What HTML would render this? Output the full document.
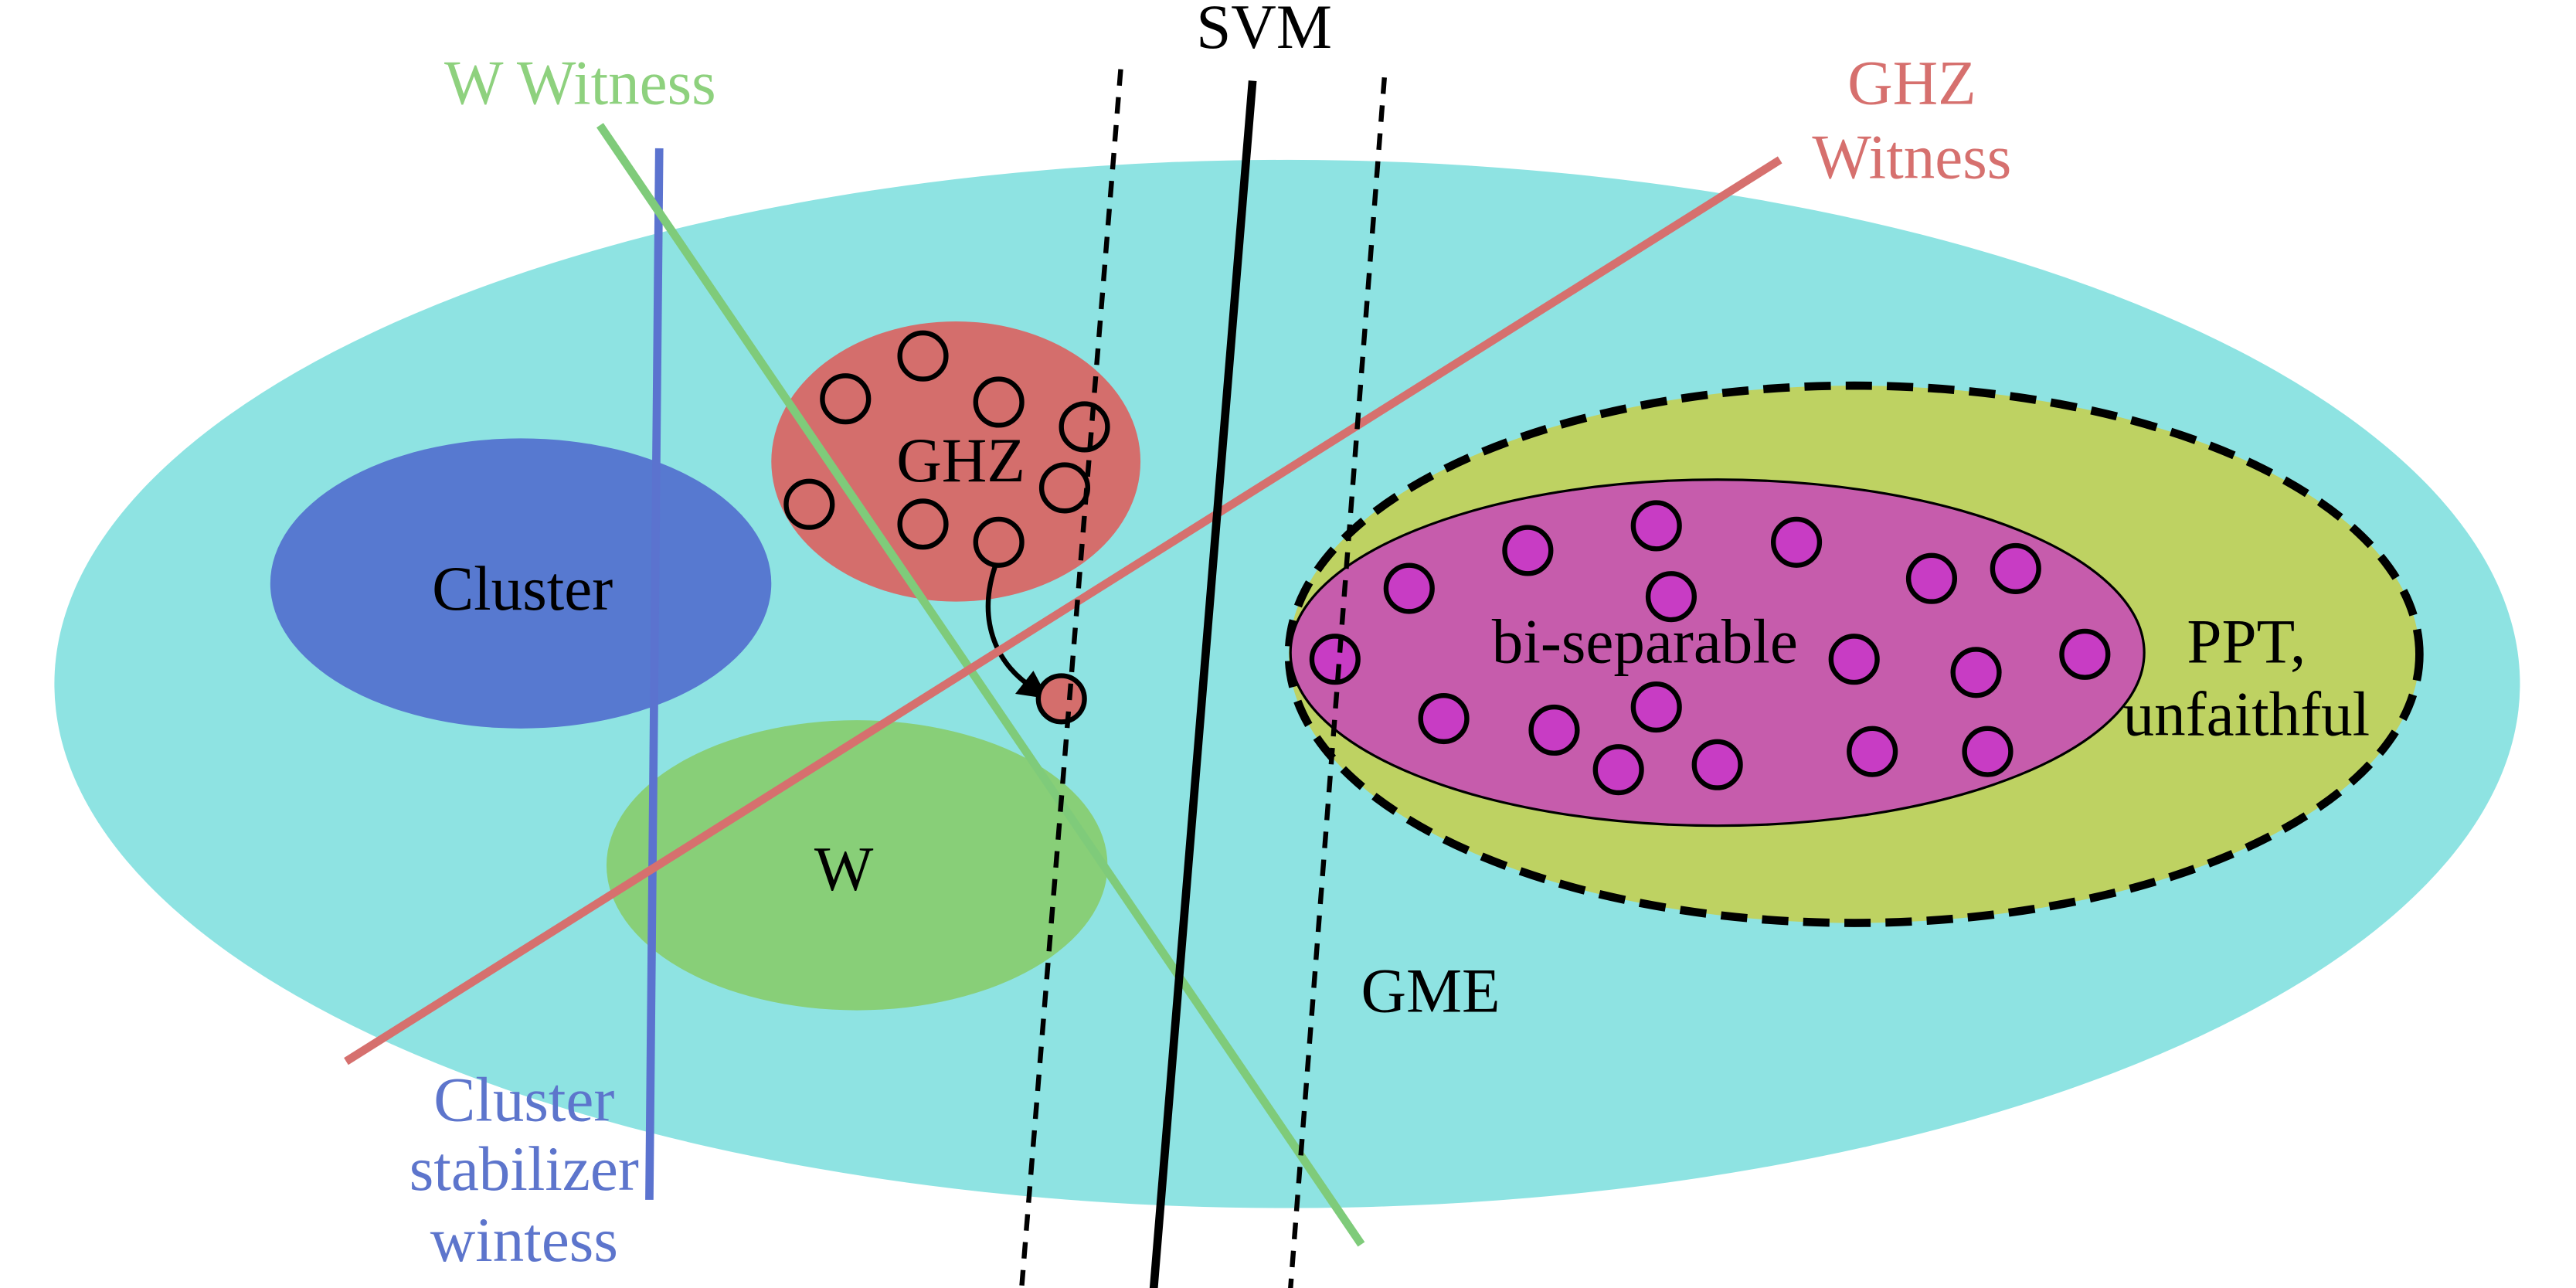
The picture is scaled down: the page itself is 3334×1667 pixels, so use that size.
<!DOCTYPE html>
<html><head><meta charset="utf-8"><style>
html,body{margin:0;padding:0;background:#fff;}
svg{display:block;}
text{font-family:"Liberation Serif",serif;font-size:38px;}
</style></head><body>
<svg id="chart" width="3334" height="1667" viewBox="0 0 1563 781.5" xmlns="http://www.w3.org/2000/svg">
<ellipse cx="781" cy="415" rx="748" ry="318" fill="#8ee3e2"/>
<ellipse cx="316" cy="354" rx="152" ry="88" fill="#5779d0"/>
<ellipse cx="580" cy="280" rx="112" ry="85" fill="#d46e6c"/>
<ellipse cx="520" cy="525" rx="152" ry="88" fill="#88cf78"/>
<ellipse cx="1125" cy="397" rx="343" ry="163" fill="#bed262" stroke="#000" stroke-width="5" stroke-dasharray="16,9"/>
<ellipse cx="1042" cy="396" rx="259" ry="105" fill="#c65cac" stroke="#000" stroke-width="1.5"/>
<g id="ghzpts"></g>
<g id="seppts"></g>
<path d="M604 343 C592 378 606 405 628 418" fill="none" stroke="#000" stroke-width="3"/>
<polygon points="636,424 616,421 627,407" fill="#000"/>
<circle cx="644" cy="424" r="14" fill="#d46e6c" stroke="#000" stroke-width="3"/>
<line x1="400" y1="90" x2="394" y2="728" stroke="#5b73cf" stroke-width="5"/>
<line x1="364" y1="76" x2="826" y2="755" stroke="#7fcb7a" stroke-width="5"/>
<line x1="210" y1="644" x2="1080" y2="97" stroke="#d6706e" stroke-width="5"/>
<line x1="760" y1="49" x2="700" y2="782" stroke="#000" stroke-width="5"/>
<line x1="680" y1="42" x2="620" y2="780" stroke="#000" stroke-width="3" stroke-dasharray="10,7"/>
<line x1="840" y1="47" x2="783" y2="782" stroke="#000" stroke-width="3" stroke-dasharray="10,7"/>
<text x="767" y="29" text-anchor="middle">SVM</text>
<text x="352" y="63" text-anchor="middle" fill="#8ed17e">W Witness</text>
<text text-anchor="middle" fill="#d6706e"><tspan x="1160" y="63">GHZ</tspan><tspan x="1160" y="108">Witness</tspan></text>
<text x="317" y="370" text-anchor="middle">Cluster</text>
<text x="583" y="292" text-anchor="middle">GHZ</text>
<text x="512" y="540" text-anchor="middle">W</text>
<text x="998" y="402" text-anchor="middle">bi-separable</text>
<text text-anchor="middle"><tspan x="1363" y="402">PPT,</tspan><tspan x="1363" y="446">unfaithful</tspan></text>
<text x="868" y="614" text-anchor="middle">GME</text>
<text text-anchor="middle" fill="#5d75cc"><tspan x="318" y="680">Cluster</tspan><tspan x="318" y="722">stabilizer</tspan><tspan x="318" y="765">wintess</tspan></text>
</svg>
<script>
var ghzX=[560,513,606,658,646,491,560,606];
var ghzY=[216,242,244,259,296,306,318,329];
var sepX=[810,855,927,1005,1014,1090,1172,1223,1125,1199,1265,876,943,1005,982,1042,1136,1206];
var sepY=[400,357,334,319,362,329,351,345,400,408,397,436,443,429,467,464,456,456];
var NS='http://www.w3.org/2000/svg';
var g1=document.getElementById('ghzpts');
for(var i=0;i<ghzX.length;i++){
  var c=document.createElementNS(NS,'circle');
  c.setAttribute('cx',ghzX[i]);c.setAttribute('cy',ghzY[i]);c.setAttribute('r',14);
  c.setAttribute('fill','none');c.setAttribute('stroke','#000');c.setAttribute('stroke-width',3);
  
  
  g1.appendChild(c);
}
var g2=document.getElementById('seppts');
for(var j=0;j<sepX.length;j++){
  var d=document.createElementNS(NS,'circle');
  d.setAttribute('cx',sepX[j]);d.setAttribute('cy',sepY[j]);d.setAttribute('r',14);
  d.setAttribute('fill','#c83cc4');d.setAttribute('stroke','#000');d.setAttribute('stroke-width',3);
  
  
  g2.appendChild(d);
}
</script>
</body></html>
